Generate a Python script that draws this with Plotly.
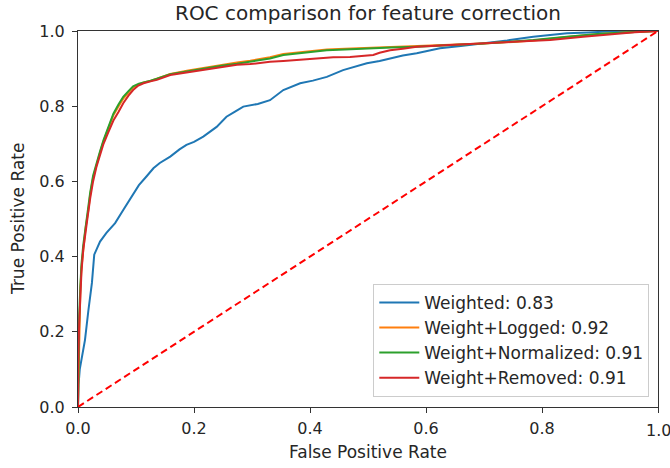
import plotly.graph_objects as go

# ROC points (false positive rate, true positive rate) for each model variant
weighted_fpr = [0, 0.001, 0.003, 0.008, 0.012, 0.018, 0.024, 0.028, 0.032, 0.038,
                0.049, 0.064, 0.078, 0.09, 0.105, 0.118, 0.13, 0.141, 0.159, 0.175,
                0.187, 0.2, 0.216, 0.239, 0.256, 0.27, 0.285, 0.31, 0.331, 0.354,
                0.383, 0.405, 0.429, 0.457, 0.48, 0.498, 0.52, 0.538, 0.56, 0.584,
                0.624, 0.66, 0.699, 0.74, 0.785, 0.843, 0.88, 0.929, 0.96, 1.0]
weighted_tpr = [0, 0.06, 0.1, 0.14, 0.178, 0.258, 0.33, 0.405, 0.42, 0.44,
                0.463, 0.489, 0.524, 0.555, 0.59, 0.613, 0.635, 0.649, 0.666, 0.685,
                0.697, 0.705, 0.719, 0.745, 0.772, 0.785, 0.799, 0.806, 0.816, 0.843,
                0.861, 0.868, 0.878, 0.896, 0.905, 0.914, 0.92, 0.927, 0.935, 0.941,
                0.954, 0.96, 0.967, 0.975, 0.985, 0.994, 0.996, 1.0, 1.0, 1.0]

logged_fpr = [0, 0.001, 0.002, 0.004, 0.006, 0.009, 0.013, 0.018, 0.021, 0.026,
              0.032, 0.038, 0.044, 0.052, 0.061, 0.07, 0.078, 0.087, 0.095, 0.105,
              0.113, 0.125, 0.136, 0.159, 0.19, 0.216, 0.25, 0.274, 0.297, 0.331,
              0.354, 0.39, 0.429, 0.46, 0.498, 0.54, 0.584, 0.64, 0.699, 0.75,
              0.785, 0.843, 0.9, 0.95, 1.0]
logged_tpr = [0, 0.11, 0.23, 0.31, 0.37, 0.425, 0.475, 0.525, 0.565, 0.61,
              0.645, 0.677, 0.707, 0.742, 0.776, 0.8, 0.82, 0.836, 0.85, 0.858,
              0.863, 0.867, 0.873, 0.886, 0.895, 0.902, 0.91, 0.916, 0.921, 0.93,
              0.939, 0.945, 0.951, 0.953, 0.955, 0.957, 0.959, 0.963, 0.967, 0.971,
              0.975, 0.984, 0.992, 0.997, 1.0]

normalized_fpr = [0, 0.001, 0.002, 0.004, 0.006, 0.009, 0.013, 0.018, 0.021, 0.026,
                  0.032, 0.038, 0.044, 0.052, 0.061, 0.07, 0.078, 0.087, 0.095, 0.105,
                  0.113, 0.125, 0.136, 0.159, 0.19, 0.216, 0.25, 0.274, 0.297, 0.331,
                  0.354, 0.39, 0.429, 0.46, 0.498, 0.54, 0.584, 0.64, 0.699, 0.75,
                  0.785, 0.843, 0.9, 0.95, 1.0]
normalized_tpr = [0, 0.12, 0.24, 0.32, 0.38, 0.43, 0.48, 0.53, 0.57, 0.615,
                  0.65, 0.68, 0.71, 0.745, 0.78, 0.805, 0.825, 0.84, 0.853, 0.86,
                  0.864, 0.868, 0.873, 0.885, 0.893, 0.9, 0.908, 0.913, 0.918, 0.927,
                  0.936, 0.942, 0.949, 0.951, 0.954, 0.956, 0.958, 0.962, 0.967, 0.972,
                  0.976, 0.985, 0.993, 0.997, 1.0]

removed_fpr = [0, 0.0, 0.002, 0.004, 0.006, 0.009, 0.013, 0.017, 0.021, 0.026,
               0.032, 0.038, 0.044, 0.052, 0.061, 0.07, 0.078, 0.087, 0.095, 0.104,
               0.113, 0.125, 0.136, 0.159, 0.19, 0.216, 0.245, 0.274, 0.297, 0.331,
               0.354, 0.39, 0.411, 0.44, 0.469, 0.49, 0.509, 0.52, 0.538, 0.56,
               0.584, 0.641, 0.699, 0.756, 0.814, 0.871, 0.929, 0.96, 1.0]
removed_tpr = [0, 0.1, 0.22, 0.3, 0.36, 0.418, 0.47, 0.51, 0.555, 0.6,
               0.64, 0.67, 0.7, 0.73, 0.762, 0.785, 0.808, 0.828, 0.843, 0.855,
               0.861, 0.866, 0.87, 0.883, 0.89, 0.896, 0.903, 0.91, 0.912, 0.918,
               0.92, 0.925, 0.927, 0.93, 0.931, 0.933, 0.936, 0.942, 0.949, 0.953,
               0.958, 0.963, 0.967, 0.971, 0.976, 0.985, 0.994, 0.997, 1.0]

series_names = ["Weighted", "Weight+Logged", "Weight+Normalized", "Weight+Removed"]
auc_values = [0.83, 0.92, 0.91, 0.91]
series_colors = ["#1f77b4", "#ff7f0e", "#2ca02c", "#d62728"]

chance_x = [0, 1]
chance_y = [0, 1]

tick_values = [0, 0.2, 0.4, 0.6, 0.8, 1.0]
tick_labels = ["0.0", "0.2", "0.4", "0.6", "0.8", "1.0"]

curves = [
    (weighted_fpr, weighted_tpr),
    (logged_fpr, logged_tpr),
    (normalized_fpr, normalized_tpr),
    (removed_fpr, removed_tpr),
]

FONT = "DejaVu Sans"
TEXT = "#262626"
W, H = 670, 468
ML, MR, MT, MB = 78, 12, 31, 61

fig = go.Figure()
for (fx, ty), name, auc, color in zip(curves, series_names, auc_values, series_colors):
    fig.add_trace(go.Scatter(
        x=fx, y=ty, mode="lines",
        name=f"{name}: {auc:.2f}",
        line=dict(color=color, width=2),
    ))

# chance diagonal
fig.add_trace(go.Scatter(
    x=chance_x, y=chance_y, mode="lines", showlegend=False,
    line=dict(color="red", width=2, dash="7px,4px"),
))

axis_common = dict(
    range=[0, 1],
    automargin=False,
    showgrid=False,
    zeroline=False,
    showline=True,
    linecolor="#333333",
    linewidth=1,
    mirror=True,
    ticks="outside",
    ticklen=5,
    tickwidth=1,
    tickcolor="#333333",
    tickvals=tick_values,
    ticktext=tick_labels,
    tickfont=dict(family=FONT, size=16, color=TEXT),
)

plot_w = W - ML - MR
plot_h = H - MT - MB

annotations = [
    dict(text="False Positive Rate", xref="paper", yref="paper",
         x=0.5, y=-(452 - (H - MB)) / plot_h, xanchor="center", yanchor="middle",
         showarrow=False, font=dict(family=FONT, size=17, color=TEXT)),
    dict(text="True Positive Rate", xref="paper", yref="paper",
         x=-(ML - 18) / plot_w, y=0.5, xanchor="center", yanchor="middle",
         textangle=-90, showarrow=False,
         font=dict(family=FONT, size=17, color=TEXT)),
]
# the last x tick label sits at the right page edge, where the axis drops it
annotations.append(dict(
    text=tick_labels[-1], xref="x", yref="paper",
    x=tick_values[-1], y=-12 / plot_h, xanchor="center", yanchor="top",
    showarrow=False, font=dict(family=FONT, size=16, color=TEXT),
))

fig.update_layout(
    width=W,
    height=H,
    margin=dict(l=ML, r=MR, t=MT, b=MB),
    paper_bgcolor="white",
    plot_bgcolor="white",
    font=dict(family=FONT, color=TEXT),
    title=dict(
        text="ROC comparison for feature correction",
        x=(ML + plot_w / 2) / W, xanchor="center",
        y=1 - 13 / H, yanchor="middle",
        font=dict(family=FONT, size=20, color=TEXT),
    ),
    xaxis=dict(axis_common, ticklabelstandoff=2),
    yaxis=dict(axis_common, ticklabelstandoff=4),
    legend=dict(
        x=0.985, xanchor="right",
        y=0.027, yanchor="bottom",
        bgcolor="rgba(255,255,255,0.8)",
        bordercolor="#cccccc",
        borderwidth=1,
        font=dict(family=FONT, size=17, color=TEXT),
        itemwidth=40,
        tracegroupgap=0,
    ),
    annotations=annotations,
)

fig.write_html("out.html")
